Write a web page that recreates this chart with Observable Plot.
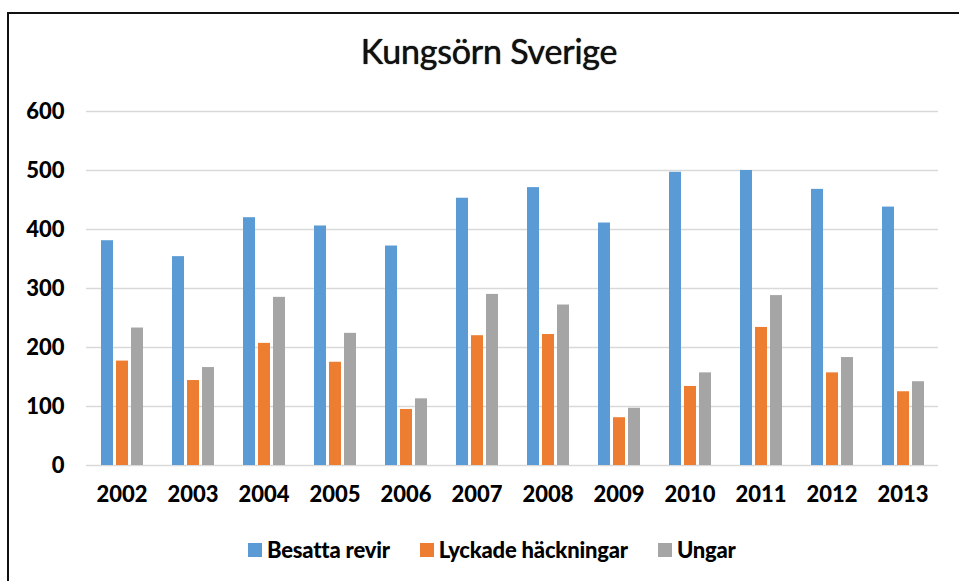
<!DOCTYPE html>
<html>
<head>
<meta charset="utf-8">
<script src="https://cdn.jsdelivr.net/npm/d3@7"></script>
<script src="https://cdn.jsdelivr.net/npm/@observablehq/plot@0.6"></script>
<style>
  html, body { margin: 0; padding: 0; background: #fff; }
  #wrap { position: relative; width: 959px; height: 581px; overflow: hidden; font-family: Lato, "Open Sans", sans-serif; }
  #frame { position: absolute; left: 7px; top: 12px; width: 960px; height: 600px; border-top: 2px solid #111; border-left: 2px solid #111; box-sizing: border-box; }
  #title { position: absolute; left: 0; width: 978px; top: 30px; text-align: center; font-size: 34px; font-weight: 400; color: #111; letter-spacing: -0.2px; text-shadow: 0 0 1px #000; }
  #chart { position: absolute; left: 0; top: 90px; }
  #legend { position: absolute; left: 248px; top: 536px; display: flex; align-items: center; font-size: 22px; font-weight: 900; color: #000; letter-spacing: -0.2px; }
  .item { display: flex; align-items: center; margin-right: 30px; }
  .sw { width: 14px; height: 14px; margin-right: 5px; }
</style>
</head>
<body>
<div id="wrap">
  <div id="frame"></div>
  <div id="title">Kungsörn Sverige</div>
  <div id="chart"></div>
  <div id="legend"></div>
</div>
<script>
const years = ["2002","2003","2004","2005","2006","2007","2008","2009","2010","2011","2012","2013"];
const seriesNames = ["Besatta revir", "Lyckade häckningar", "Ungar"];
const seriesColors = ["#5B9BD5", "#ED7D31", "#A5A5A5"];
const besattaRevir = [381, 354, 420, 406, 372, 453, 471, 411, 497, 500, 468, 438];
const lyckadeHackningar = [177, 144, 207, 175, 95, 220, 222, 81, 134, 234, 157, 125];
const ungar = [233, 166, 285, 224, 113, 290, 272, 97, 157, 288, 183, 142];
const yTicks = [0, 100, 200, 300, 400, 500, 600];

const seriesValues = [besattaRevir, lyckadeHackningar, ungar];
const data = [];
years.forEach((yr, i) => {
  seriesNames.forEach((s, j) => {
    data.push({year: yr, series: s, value: seriesValues[j][i]});
  });
});

const plot = Plot.plot({
  width: 959,
  height: 430,
  marginTop: 21,
  marginBottom: 55,
  marginLeft: 84,
  marginRight: 20,
  style: { fontFamily: "Lato, 'Open Sans', sans-serif", color: "#000", background: "transparent" },
  fx: { domain: years, padding: 0, label: null },
  x: { domain: seriesNames, paddingInner: 0.23, paddingOuter: 0.84, axis: null },
  y: { domain: [0, 600], label: null },
  color: { domain: seriesNames, range: seriesColors },
  marks: [
    Plot.ruleY(yTicks, { stroke: "#D9D9D9", strokeWidth: 1.5 }),
    Plot.barY(data, { fx: "year", x: "series", y: "value", fill: "series" }),
    Plot.axisY({ ticks: yTicks, tickSize: 0, tickPadding: 22, fontSize: 22, fontWeight: 900, label: null, style: { letterSpacing: "-0.5px" } }),
    Plot.axisFx({ anchor: "bottom", tickSize: 0, tickPadding: 21, fontSize: 22, fontWeight: 900, label: null, style: { letterSpacing: "-0.5px" } })
  ]
});
document.getElementById("chart").appendChild(plot);

const legend = document.getElementById("legend");
seriesNames.forEach((s, j) => {
  const item = document.createElement("div");
  item.className = "item";
  const sw = document.createElement("div");
  sw.className = "sw";
  sw.style.background = seriesColors[j];
  const t = document.createElement("span");
  t.textContent = s;
  item.appendChild(sw);
  item.appendChild(t);
  legend.appendChild(item);
});
</script>
</body>
</html>
